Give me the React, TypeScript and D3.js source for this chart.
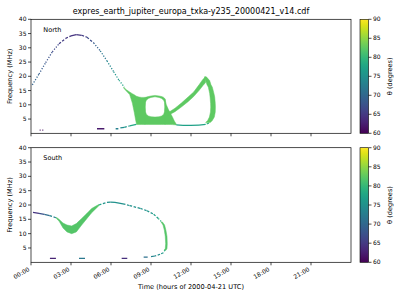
import React from "react";
import * as d3 from "d3";

const FONT = "DejaVu Sans, sans-serif";

// ---------- axes / labels ----------
const hourTicks = [0, 3, 6, 9, 12, 15, 18, 21];
const hourTickLabels = ["00:00", "03:00", "06:00", "09:00", "12:00", "15:00", "18:00", "21:00"];
const freqTicks = [5, 10, 15, 20, 25, 30, 35, 40];
const thetaTicks = [60, 65, 70, 75, 80, 85, 90];
const titleText = "expres_earth_jupiter_europa_txka-y235_20000421_v14.cdf";
const xLabelText = "Time (hours of 2000-04-21 UTC)";
const yLabelText = "Frequency (MHz)";
const cbLabelText = "θ (degrees)";

// ---------- North hemisphere ----------
const northCurveT = [0.1, 0.6, 1.1, 1.6, 2.1, 2.6, 3.0, 3.4, 3.8, 4.2, 4.7, 5.2, 5.7, 6.2, 6.6, 7.0];
const northCurveF = [17.0, 20.8, 24.8, 28.6, 31.4, 33.3, 34.2, 34.6, 34.4, 33.7, 31.7, 28.9, 25.4, 21.6, 18.6, 16.2];
const northCurveTheta = [70, 69, 68, 67, 66, 65, 64.5, 64.5, 65, 66, 68, 70.5, 73, 75, 76.5, 78];

const northBlobLeftT = [6.95, 7.15, 7.4, 7.6, 7.75, 7.85, 7.92, 8.1, 8.3, 8.55];
const northBlobLeftHi = [16.2, 15.3, 14.5, 13.9, 13.5, 13.2, 13.0, 12.7, 12.6, 12.6];
const northBlobLeftLo = [15.9, 14.8, 13.6, 10.6, 7.2, 4.6, 3.1, 3.1, 3.1, 3.1];

const northHoleT = [8.55, 8.58, 8.65, 8.8, 9.0, 9.3, 9.6, 9.8, 9.95, 10.02, 10.05];
const northAboveHoleHi = [12.6, 12.62, 12.7, 12.9, 13.1, 13.3, 13.1, 12.9, 12.6, 12.3, 12.0];
const northAboveHoleLo = [9.25, 10.8, 11.6, 12.2, 12.6, 12.8, 12.6, 12.2, 11.6, 10.8, 9.25];
const northBelowHoleHi = [9.25, 7.6, 6.7, 6.1, 5.8, 5.7, 5.8, 6.1, 6.7, 7.6, 9.25];
const northBelowHoleLo = [3.1, 3.1, 3.1, 3.1, 3.1, 3.1, 3.1, 3.1, 3.1, 3.1, 3.1];

const northBlobRightT = [10.05, 10.15, 10.3, 10.45, 10.6, 10.75, 10.9];
const northBlobRightHi = [12.0, 10.0, 8.4, 7.1, 5.8, 4.3, 3.2];
const northBlobRightLo = [3.1, 3.1, 3.1, 3.1, 3.05, 3.0, 2.95];

const northLoopUpperT = [10.3, 10.8, 11.3, 11.8, 12.2, 12.6, 12.9, 13.1];
const northLoopUpperLo = [6.3, 7.6, 9.3, 11.2, 12.9, 15.0, 16.8, 17.8];
const northLoopUpperHi = [7.3, 8.8, 10.7, 12.8, 14.5, 17.0, 19.0, 19.8];

const northLoopRightF = [19.8, 18.5, 17.0, 16.2, 14.0, 12.7, 10.5, 9.2, 7.5, 5.7, 4.5, 3.8];
const northLoopRightTLo = [13.0, 13.1, 13.2, 13.3, 13.4, 13.43, 13.47, 13.48, 13.46, 13.38, 13.25, 13.1];
const northLoopRightTHi = [13.15, 13.4, 13.5, 13.6, 13.72, 13.78, 13.82, 13.83, 13.82, 13.75, 13.6, 13.45];

const northLoopLowerT = [13.35, 13.1, 12.6, 12.0, 11.4, 10.9];
const northLoopLowerF = [3.6, 3.1, 2.9, 2.8, 2.8, 2.95];
const northLoopLowerTheta = [80, 78, 77, 77, 77, 78];

const northTailT = [6.7, 7.0, 7.4, 7.9];
const northTailF = [1.9, 2.1, 2.6, 3.1];
const northTailTheta = [74, 75, 77, 79];

// [start hour, end hour, frequency, theta]
const northDashes = [
  [0.65, 0.72, 1.1, 61],
  [0.85, 0.92, 1.1, 61],
  [4.95, 5.5, 1.6, 62],
  [6.35, 6.55, 1.6, 73],
];

const northBandTheta = 82.5;

// ---------- South hemisphere ----------
const southCurve1T = [0.15, 0.6, 1.0, 1.4, 1.9];
const southCurve1F = [17.4, 17.1, 16.7, 16.3, 15.5];
const southCurve1Theta = [63, 66, 69, 72, 75];

const southBandT = [1.9, 2.1, 2.4, 2.7, 3.05, 3.4, 3.8, 4.2, 4.55, 4.9, 5.1];
const southBandHi = [15.7, 15.0, 13.7, 13.0, 12.7, 13.5, 15.3, 17.1, 18.8, 19.7, 20.2];
const southBandLo = [15.3, 14.4, 12.0, 10.6, 10.0, 10.6, 13.0, 15.3, 17.3, 18.9, 19.8];

const southCurve2T = [5.1, 5.4, 5.7, 5.95, 6.3, 6.9, 7.4, 8.2, 8.7, 9.2, 9.55, 9.8];
const southCurve2F = [20.0, 20.5, 20.9, 21.0, 20.9, 20.4, 19.8, 18.8, 18.0, 16.8, 15.3, 14.1];
const southCurve2Theta = [78, 76, 75, 75, 75, 75, 75, 75, 75.5, 76, 78, 80];

const southVertF = [14.1, 13.0, 11.2, 9.0, 6.5, 4.8, 4.2];
const southVertTLo = [9.75, 9.9, 10.0, 10.07, 10.1, 10.07, 9.98];
const southVertTHi = [9.85, 10.02, 10.12, 10.2, 10.22, 10.2, 10.12];

const southTailT = [10.05, 9.93, 9.68, 9.3, 9.0];
const southTailF = [4.2, 3.35, 2.8, 2.2, 2.0];
const southTailTheta = [79, 77, 75, 74, 73];

const southDashes = [
  [1.42, 1.87, 1.4, 63],
  [3.6, 4.05, 1.4, 72],
  [6.8, 7.22, 1.4, 64],
  [8.45, 8.75, 1.8, 71],
];

const southBandTheta = 82;

// ---------- layout ----------
const PLOT_L = 31;
const PLOT_R = 351;
const CB_L = 360;
const CB_R = 368.5;

const x = d3.scaleLinear().domain([0, 24]).range([PLOT_L, PLOT_R]);
const color = d3.scaleSequential(d3.interpolateViridis).domain([60, 90]);

type AreaT = { t: number[]; lo: number[]; hi: number[]; th: number };
type AreaF = { f: number[]; tLo: number[]; tHi: number[]; th: number };
type Line = { t: number[]; f: number[]; th: number[] };

type Panel = {
  name: string;
  top: number;
  bottom: number;
  areasT: AreaT[];
  areasF: AreaF[];
  lines: Line[];
  dashes: number[][];
  showXLabels: boolean;
};

const panels: Panel[] = [
  {
    name: "North",
    top: 19.3,
    bottom: 133.3,
    areasT: [
      { t: northBlobLeftT, lo: northBlobLeftLo, hi: northBlobLeftHi, th: northBandTheta },
      { t: northHoleT, lo: northAboveHoleLo, hi: northAboveHoleHi, th: northBandTheta },
      { t: northHoleT, lo: northBelowHoleLo, hi: northBelowHoleHi, th: northBandTheta },
      { t: northBlobRightT, lo: northBlobRightLo, hi: northBlobRightHi, th: northBandTheta },
      { t: northLoopUpperT, lo: northLoopUpperLo, hi: northLoopUpperHi, th: northBandTheta },
    ],
    areasF: [{ f: northLoopRightF, tLo: northLoopRightTLo, tHi: northLoopRightTHi, th: northBandTheta }],
    lines: [
      { t: northCurveT, f: northCurveF, th: northCurveTheta },
      { t: northLoopLowerT, f: northLoopLowerF, th: northLoopLowerTheta },
      { t: northTailT, f: northTailF, th: northTailTheta },
    ],
    dashes: northDashes,
    showXLabels: false,
  },
  {
    name: "South",
    top: 147.7,
    bottom: 262.3,
    areasT: [{ t: southBandT, lo: southBandLo, hi: southBandHi, th: southBandTheta }],
    areasF: [{ f: southVertF, tLo: southVertTLo, tHi: southVertTHi, th: southBandTheta }],
    lines: [
      { t: southCurve1T, f: southCurve1F, th: southCurve1Theta },
      { t: southCurve2T, f: southCurve2F, th: southCurve2Theta },
      { t: southTailT, f: southTailF, th: southTailTheta },
    ],
    dashes: southDashes,
    showXLabels: true,
  },
];

function PanelView({ p, idx }: { p: Panel; idx: number }) {
  const y = d3.scaleLinear().domain([0, 40]).range([p.bottom, p.top]);
  const cby = d3.scaleLinear().domain([60, 90]).range([p.bottom, p.top]);
  const clipId = `clip${idx}`;
  const gradId = `cbgrad${idx}`;
  const midY = (p.top + p.bottom) / 2;

  const segs: JSX.Element[] = [];
  p.lines.forEach((ln, li) => {
    for (let i = 0; i < ln.t.length - 1; i++) {
      const x1 = x(ln.t[i]), x2 = x(ln.t[i + 1]);
      const y1 = y(ln.f[i]), y2 = y(ln.f[i + 1]);
      const s = Math.abs(y2 - y1) / Math.max(Math.abs(x2 - x1), 0.01);
      const dash = s < 0.25 ? undefined : s < 1 ? "2.5 1.6" : "1.2 1.6";
      segs.push(
        <line
          key={`l${li}-${i}`}
          x1={x1}
          y1={y1}
          x2={x2}
          y2={y2}
          stroke={color((ln.th[i] + ln.th[i + 1]) / 2)}
          strokeWidth={1.25}
          strokeDasharray={dash}
        />
      );
    }
  });

  return (
    <g>
      <defs>
        <clipPath id={clipId}>
          <rect x={PLOT_L} y={p.top} width={PLOT_R - PLOT_L} height={p.bottom - p.top} />
        </clipPath>
        <linearGradient id={gradId} x1="0" y1="1" x2="0" y2="0">
          {d3.range(0, 1.0001, 0.05).map((v) => (
            <stop key={v} offset={v} stopColor={d3.interpolateViridis(v)} />
          ))}
        </linearGradient>
      </defs>

      <g clipPath={`url(#${clipId})`}>
        {p.areasT.map((a, i) => {
          const gen = d3
            .area<number>()
            .x((k) => x(a.t[k]))
            .y0((k) => y(a.lo[k]))
            .y1((k) => y(a.hi[k]));
          return (
            <path
              key={`at${i}`}
              d={gen(d3.range(a.t.length)) || ""}
              fill={color(a.th)}
              stroke={color(a.th)}
              strokeWidth={0.5}
            />
          );
        })}
        {p.areasF.map((a, i) => {
          const gen = d3
            .area<number>()
            .y((k) => y(a.f[k]))
            .x0((k) => x(a.tLo[k]))
            .x1((k) => x(a.tHi[k]));
          return (
            <path
              key={`af${i}`}
              d={gen(d3.range(a.f.length)) || ""}
              fill={color(a.th)}
              stroke={color(a.th)}
              strokeWidth={0.5}
            />
          );
        })}
        {segs}
        {p.dashes.map((d, i) => (
          <line
            key={`d${i}`}
            x1={x(d[0])}
            x2={x(d[1])}
            y1={y(d[2])}
            y2={y(d[2])}
            stroke={color(d[3])}
            strokeWidth={1.3}
          />
        ))}
      </g>

      {/* frame */}
      <rect
        x={PLOT_L}
        y={p.top}
        width={PLOT_R - PLOT_L}
        height={p.bottom - p.top}
        fill="none"
        stroke="#000"
        strokeWidth={0.7}
      />

      {/* y ticks */}
      {freqTicks.map((v) => (
        <g key={`yt${v}`}>
          <line x1={PLOT_L - 3} x2={PLOT_L} y1={y(v)} y2={y(v)} stroke="#000" strokeWidth={0.7} />
          <text x={PLOT_L - 4.5} y={y(v)} dy="0.35em" textAnchor="end" fontSize={6} fontFamily={FONT}>
            {v}
          </text>
        </g>
      ))}
      <text
        transform={`translate(12,${midY}) rotate(-90)`}
        textAnchor="middle"
        fontSize={6.6}
        fontFamily={FONT}
      >
        {yLabelText}
      </text>

      {/* x ticks */}
      {hourTicks.map((h, i) => (
        <g key={`xt${h}`}>
          <line x1={x(h)} x2={x(h)} y1={p.bottom} y2={p.bottom + 3} stroke="#000" strokeWidth={0.7} />
          {p.showXLabels && (
            <text
              transform={`translate(${x(h) - 1},${p.bottom + 8.2}) rotate(-30)`}
              textAnchor="end"
              fontSize={6}
              fontFamily={FONT}
            >
              {hourTickLabels[i]}
            </text>
          )}
        </g>
      ))}

      <text x={43.3} y={p.top + 12.2} fontSize={6.5} fontFamily={FONT}>
        {p.name}
      </text>

      {/* colorbar */}
      <rect x={CB_L} y={p.top} width={CB_R - CB_L} height={p.bottom - p.top} fill={`url(#${gradId})`} />
      <rect
        x={CB_L}
        y={p.top}
        width={CB_R - CB_L}
        height={p.bottom - p.top}
        fill="none"
        stroke="#000"
        strokeWidth={0.6}
      />
      {thetaTicks.map((v) => (
        <g key={`ct${v}`}>
          <line x1={CB_R} x2={CB_R + 3} y1={cby(v)} y2={cby(v)} stroke="#000" strokeWidth={0.7} />
          <text x={CB_R + 4.5} y={cby(v)} dy="0.35em" fontSize={6} fontFamily={FONT}>
            {v}
          </text>
        </g>
      ))}
      <text
        transform={`translate(391.5,${midY}) rotate(-90)`}
        textAnchor="middle"
        fontSize={6.6}
        fontFamily={FONT}
      >
        {cbLabelText}
      </text>
    </g>
  );
}

export default function App() {
  return (
    <svg
      width={400}
      height={300}
      viewBox="0 0 400 300"
      style={{ position: "absolute", left: 0, top: 0, background: "#fff" }}
    >
      <rect x={0} y={0} width={400} height={300} fill="#fff" />
      <text x={(PLOT_L + PLOT_R) / 2} y={14} textAnchor="middle" fontSize={8} fontFamily={FONT}>
        {titleText}
      </text>
      {panels.map((p, i) => (
        <PanelView key={p.name} p={p} idx={i} />
      ))}
      <text x={(PLOT_L + PLOT_R) / 2} y={289} textAnchor="middle" fontSize={6.6} fontFamily={FONT}>
        {xLabelText}
      </text>
    </svg>
  );
}
